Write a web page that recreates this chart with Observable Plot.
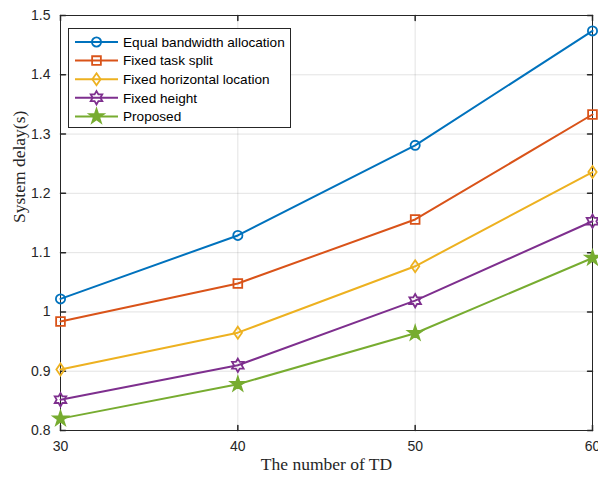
<!DOCTYPE html>
<html>
<head>
<meta charset="utf-8">
<script src="https://cdn.jsdelivr.net/npm/d3@7"></script>
<script src="https://cdn.jsdelivr.net/npm/@observablehq/plot@0.6"></script>
<style>
  body { margin: 0; background: #fff; }
  #chart { position: relative; width: 598px; height: 481px; }
  #legend { position: absolute; left: 0; top: 0; pointer-events: none; }
</style>
</head>
<body>
<div id="chart"></div>
<script>
// Number of terminal devices (x) and system delay in seconds for each scheme
const tdCounts = [30, 40, 50, 60];
const seriesNames = [
  "Equal bandwidth allocation",
  "Fixed task split",
  "Fixed horizontal location",
  "Fixed height",
  "Proposed"
];
const equalBandwidth  = [1.022, 1.129, 1.281, 1.474];
const fixedTaskSplit  = [0.984, 1.048, 1.156, 1.333];
const fixedHorizontal = [0.903, 0.965, 1.077, 1.236];
const fixedHeight     = [0.852, 0.910, 1.019, 1.153];
const proposed        = [0.820, 0.878, 0.964, 1.091];
const seriesColors = ["#0072BD", "#D95319", "#EDB120", "#7E2F8E", "#77AC30"];
const xTicks = [30, 40, 50, 60];
const yTicks = [0.8, 0.9, 1.0, 1.1, 1.2, 1.3, 1.4, 1.5];

const seriesValues = [equalBandwidth, fixedTaskSplit, fixedHorizontal, fixedHeight, proposed];

// Marker shapes (size is the area, as Plot passes it)
const rad = size => Math.sqrt(size / Math.PI);
function starPath(context, n, outer, inner) {
  for (let i = 0; i < 2 * n; i++) {
    const a = -Math.PI / 2 + i * Math.PI / n;
    const rr = i % 2 === 0 ? outer : inner;
    const px = rr * Math.cos(a), py = rr * Math.sin(a);
    if (i === 0) context.moveTo(px, py); else context.lineTo(px, py);
  }
  context.closePath();
}
const symCircle = { draw(c, s) { const r = rad(s); c.moveTo(r, 0); c.arc(0, 0, r, 0, 2 * Math.PI); } };
const symSquare = { draw(c, s) { const h = rad(s) * 0.95; c.rect(-h, -h, 2 * h, 2 * h); } };
const symDiamond = { draw(c, s) { const r = rad(s); const w = r * 0.9, h = r * 1.3;
  c.moveTo(0, -h); c.lineTo(w, 0); c.lineTo(0, h); c.lineTo(-w, 0); c.closePath(); } };
const symHexagram = { draw(c, s) { const r = rad(s) * 1.45; starPath(c, 6, r, r / Math.sqrt(3)); } };
const symPentagram = { draw(c, s) { const r = rad(s) * 1.6; starPath(c, 5, r, r * 0.382); } };
const seriesSymbols = [symCircle, symSquare, symDiamond, symHexagram, symPentagram];
const seriesFills = ["none", "none", "none", "none", null];

const rows = seriesNames.flatMap((name, i) =>
  tdCounts.map((td, j) => ({ series: name, idx: i, td, delay: seriesValues[i][j] }))
);

// Inward-pointing tick marks on all four sides of the box
const tickShape = { draw(c, l) { c.moveTo(0, 0); c.lineTo(0, -l); } };
const axisColor = "#262626";

const marks = [
  Plot.gridX(xTicks, { stroke: axisColor, strokeOpacity: 0.13, strokeWidth: 1 }),
  Plot.gridY(yTicks, { stroke: axisColor, strokeOpacity: 0.13, strokeWidth: 1 }),
  Plot.axisX(xTicks, { tickSize: 0, tickPadding: 11, tickFormat: d => String(d), fill: axisColor, label: null }),
  Plot.axisY(yTicks, { tickSize: 0, tickPadding: 10, tickFormat: d => d3.format("")(+d.toFixed(1)), fill: axisColor, label: null }),
  Plot.vectorX(xTicks, { x: d => d, frameAnchor: "bottom", length: 5, rotate: 0, anchor: "start", shape: tickShape, stroke: axisColor }),
  Plot.vectorX(xTicks, { x: d => d, frameAnchor: "top", length: 5, rotate: 180, anchor: "start", shape: tickShape, stroke: axisColor }),
  Plot.vectorY(yTicks, { y: d => d, frameAnchor: "left", length: 5, rotate: 90, anchor: "start", shape: tickShape, stroke: axisColor }),
  Plot.vectorY(yTicks, { y: d => d, frameAnchor: "right", length: 5, rotate: -90, anchor: "start", shape: tickShape, stroke: axisColor }),
  Plot.frame({ stroke: axisColor, strokeWidth: 1 }),
  Plot.text(["The number of TD"], { frameAnchor: "bottom", dy: 39, fontFamily: "Liberation Serif", fontSize: 17.5, fill: "#262626" }),
  Plot.text(["System delay(s)"], { frameAnchor: "left", dx: -41, rotate: -90, fontFamily: "Liberation Serif", fontSize: 17.5, fill: "#262626" })
];

seriesNames.forEach((name, i) => {
  const data = rows.filter(d => d.idx === i);
  marks.push(Plot.line(data, { x: "td", y: "delay", stroke: seriesColors[i], strokeWidth: 2 }));
  marks.push(Plot.dot(data, {
    x: "td", y: "delay", symbol: () => seriesSymbols[i], r: 4.6,
    stroke: seriesColors[i], strokeWidth: 1.8,
    fill: seriesFills[i] ?? seriesColors[i]
  }));
});

const chart = Plot.plot({
  width: 598,
  height: 481,
  marginLeft: 60,
  marginRight: 6,
  marginTop: 15,
  marginBottom: 51,
  style: { fontFamily: "Liberation Sans, Arial, sans-serif", fontSize: "14px", color: axisColor, background: "#fff", overflow: "visible" },
  x: { domain: [30, 60], ticks: xTicks },
  y: { domain: [0.8, 1.5], ticks: yTicks },
  symbol: { type: "identity" },
  marks
});
const host = document.getElementById("chart");
host.appendChild(chart);

// Legend box drawn inside the plotting area, top-left
const lg = d3.select(host).append("svg").attr("id", "legend").attr("width", 598).attr("height", 481);
const boxX = 68, boxY = 28, boxW = 222, boxH = 99, rowH = 18.6;
lg.append("rect").attr("x", boxX + 0.5).attr("y", boxY + 0.5).attr("width", boxW).attr("height", boxH)
  .attr("fill", "#fff").attr("stroke", axisColor).attr("stroke-width", 1);
seriesNames.forEach((name, i) => {
  const cy = boxY + 14 + i * rowH;
  const g = lg.append("g");
  g.append("line").attr("x1", boxX + 7).attr("x2", boxX + 50).attr("y1", cy).attr("y2", cy)
    .attr("stroke", seriesColors[i]).attr("stroke-width", 2);
  const path = d3.path();
  seriesSymbols[i].draw(path, Math.PI * 4.6 * 4.6);
  g.append("path").attr("d", path.toString()).attr("transform", `translate(${boxX + 28.5},${cy})`)
    .attr("stroke", seriesColors[i]).attr("stroke-width", 1.8)
    .attr("fill", seriesFills[i] ?? seriesColors[i]);
  g.append("text").attr("x", boxX + 55).attr("y", cy).attr("dy", "0.35em")
    .attr("font-family", "Liberation Sans, Arial, sans-serif").attr("font-size", 13.6).attr("fill", "#000")
    .text(name);
});
</script>
</body>
</html>
